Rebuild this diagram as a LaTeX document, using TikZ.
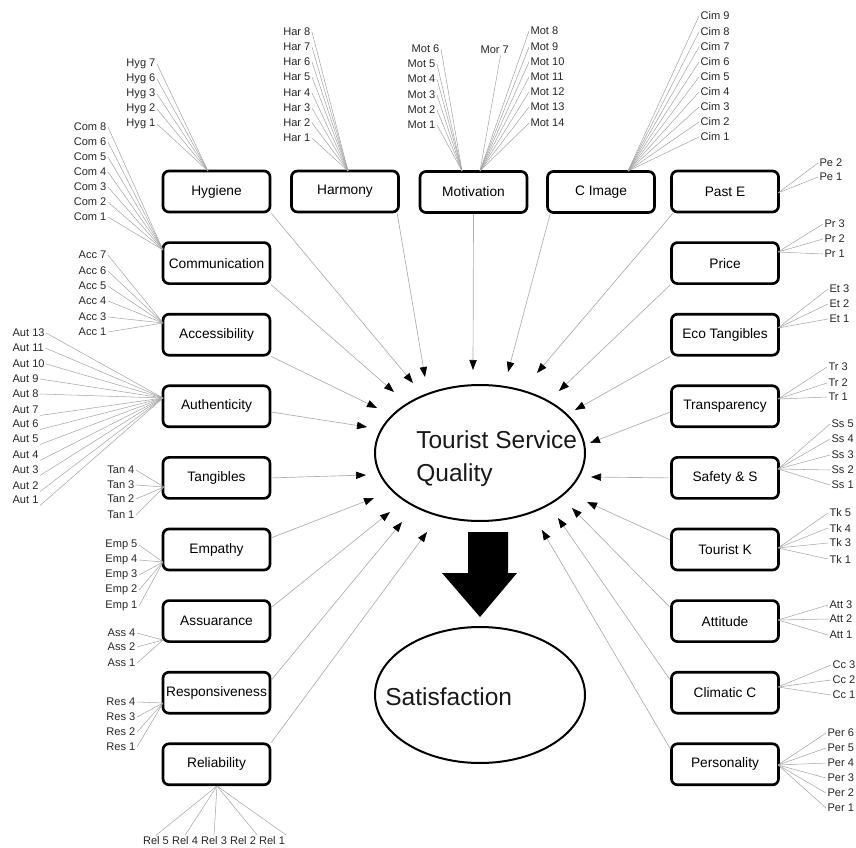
\documentclass[tikz,border=0pt]{standalone}
\usepackage{fontspec}
\setmainfont{Liberation Sans}
\usetikzlibrary{arrows.meta,shapes.geometric}
\begin{document}
\begin{tikzpicture}[x=0.75pt,y=-0.75pt,
  box/.style={draw=black, line width=2pt, rounded corners=4.5pt, fill=white,
    minimum width=80.25pt, minimum height=30.75pt, inner xsep=2pt,
    font=\fontsize{10.3}{12}\selectfont},
  ind/.style={font=\fontsize{8.3}{9}\selectfont, inner sep=1pt, text=black!85},
  fan/.style={draw=gray!70, line width=0.4pt},
  arr/.style={draw=gray!65, line width=0.5pt,
    -{Triangle[length=7.5pt,width=5.5pt,color=black,fill=black]}},
  ell/.style={ellipse, draw=black, line width=1.5pt, minimum width=157.5pt,
    minimum height=102pt, inner sep=0pt},
  big/.style={font=\fontsize{18.4}{24.75}\selectfont, inner sep=0pt, text=black!90}]
\clip (0,0) rectangle (856,848);
\useasboundingbox (0,0) rectangle (856,848);

% ellipses and texts
\node[ell] (tsq) at (480,453) {};
\node[big, anchor=north west, align=left] (tsqt) at (416,430) {Tourist Service\\Quality};
\node[ell] (sat) at (480,695) {};
\node[big, anchor=base west] (satt) at (385,705) {Satisfaction};
\fill[black] (468,532) -- (508,532) -- (508,573) -- (517,573) -- (480,617)
  -- (442,573) -- (468,573) -- cycle;

% top row
\node[box] (hyg) at (216.5,191.5) {Hygiene};
\node[box] (har) at (345,191.5) {Harmony};
\node[box] (mot) at (473.5,192) {Motivation\hspace{13.5pt}};
\node[box] (cim) at (601,192) {C Image\hspace{34.5pt}};
\node[box] (pe) at (725,191.5) {Past E};
% left column
\node[box] (com) at (216.5,263.1) {Communication};
\node[box] (acc) at (216.5,334.7) {Accessibility\hspace{7pt}};
\node[box] (aut) at (216.5,406.3) {Authenticity\hspace{7pt}};
\node[box] (tan) at (216.5,477.9) {Tangibles\hspace{4pt}};
\node[box] (emp) at (216.5,549.5) {Empathy\hspace{4pt}};
\node[box] (ass) at (216.5,621.1) {Assuarance};
\node[box] (res) at (216.5,692.7) {Responsiveness};
\node[box] (rel) at (216.5,764.3) {Reliability\hspace{6pt}};
% right column
\node[box] (pr) at (725,263.1) {Price};
\node[box] (et) at (725,334.7) {Eco Tangibles};
\node[box] (tr) at (725,406.3) {Transparency};
\node[box] (ss) at (725,477.9) {Safety \& S};
\node[box] (tk) at (725,549.5) {Tourist K};
\node[box] (att) at (725,621.1) {Attitude};
\node[box] (cc) at (725,692.7) {Climatic C};
\node[box] (per) at (725,764.3) {Personality};

% arrow tips
\coordinate (tHyg) at (413,383);
\coordinate (tHar) at (425,377);
\coordinate (tMot) at (473,370);
\coordinate (tCim) at (508,372);
\coordinate (tPe) at (537,373);
\coordinate (tPr) at (559,391);
\coordinate (tEt) at (575,410);
\coordinate (tTr) at (590,443);
\coordinate (tSs) at (591,477);
\coordinate (tTk) at (587,502);
\coordinate (tAtt) at (572,508);
\coordinate (tCc) at (558,518);
\coordinate (tPer) at (542,530);
\coordinate (tCom) at (394,392);
\coordinate (tAcc) at (377,408);
\coordinate (tAut) at (367,427);
\coordinate (tTan) at (366,475);
\coordinate (tEmp) at (374,498);
\coordinate (tAss) at (390,512);
\coordinate (tRes) at (402,522);
\coordinate (tRel) at (427,532);

\draw[arr] (hyg.south east) -- (tHyg);
\draw[arr] ([xshift=-2pt]har.south east) -- (tHar);
\draw[arr] (mot.south) -- (tMot);
\draw[arr] ([xshift=3pt]cim.south west) -- (tCim);
\draw[arr] ([xshift=2pt]pe.south west) -- (tPe);
\draw[arr] (pr.south west) -- (tPr);
\draw[arr] (et.south west) -- (tEt);
\draw[arr] (tr.-174) -- (tTr);
\draw[arr] (ss.west) -- (tSs);
\draw[arr] (tk.170) -- (tTk);
\draw[arr] (att.166) -- (tAtt);
\draw[arr] (cc.167) -- (tCc);
\draw[arr] (per.164) -- (tPer);
\draw[arr] (com.south east) -- (tCom);
\draw[arr] (acc.south east) -- (tAcc);
\draw[arr] (aut.-6) -- (tAut);
\draw[arr] (tan.east) -- (tTan);
\draw[arr] (emp.12) -- (tEmp);
\draw[arr] (ass.14) -- (tAss);
\draw[arr] (res.13) -- (tRes);
\draw[arr] (rel.north east) -- (tRel);

% fan points
\coordinate (hygF) at (208,171);
\coordinate (comF) at (163,250);
\coordinate (harF) at (348,171);
\coordinate (motFL) at (462,171);
\coordinate (motFR) at (480,171);
\coordinate (cimF) at (628,171);
\coordinate (peF) at (778,193);
\coordinate (prF) at (778,252);
\coordinate (etF) at (778,328);
\coordinate (trF) at (778,399);
\coordinate (ssF) at (778,469);
\coordinate (tkF) at (778,548);
\coordinate (attF) at (778,620);
\coordinate (ccF) at (778,687);
\coordinate (perF) at (778,765);
\coordinate (accF) at (163,323);
\coordinate (autF) at (163,398);
\coordinate (tanF) at (164,487);
\coordinate (empF) at (163,562);
\coordinate (assF) at (163,640);
\coordinate (resF) at (163,703);
\coordinate (relF) at (217,786);

% indicators
\foreach \n/\y in {7/64,6/79,3/94,2/109,1/124}{
  \node[ind,anchor=east] (hyg\n) at (157,\y) {Hyg \n};
  \draw[fan] (hyg\n.east) -- (hygF);}
\foreach \n/\y in {8/127,6/142,5/157,4/172,3/187,2/202,1/217}{
  \node[ind,anchor=east] (com\n) at (108,\y) {Com \n};
  \draw[fan] (com\n.east) -- (comF);}
\foreach \n/\y in {8/32,7/47,6/62,5/77,4/93,3/108,2/123,1/138}{
  \node[ind,anchor=east] (har\n) at (312,\y) {Har \n};
  \draw[fan] (har\n.east) -- (harF);}
\foreach \n/\x/\y in {6/441/49,5/437/64,4/437/79,3/437/95,2/437/110,1/437/125}{
  \node[ind,anchor=east] (mot\n) at (\x,\y) {Mot \n};
  \draw[fan] (mot\n.east) -- (motFL);}
\node[ind,anchor=west] (mor7) at (479,50) {Mor 7};
\draw[fan] ([xshift=-7.5pt]mor7.south east) -- (motFR);
\foreach \n/\y in {8/31,9/47,10/62,11/77,12/92,13/107,14/123}{
  \node[ind,anchor=west] (mot\n) at (529,\y) {Mot \n};
  \draw[fan] (mot\n.west) -- (motFR);}
\foreach \n/\y in {9/16,8/32,7/47,6/62,5/77,4/92,3/107,2/122,1/137}{
  \node[ind,anchor=west] (cim\n) at (699,\y) {Cim \n};
  \draw[fan] (cim\n.west) -- (cimF);}
\foreach \n/\y in {2/163,1/177}{
  \node[ind,anchor=west] (pe\n) at (818,\y) {Pe \n};
  \draw[fan] (pe\n.west) -- (peF);}
\foreach \n/\y in {3/224,2/239,1/254}{
  \node[ind,anchor=west] (pr\n) at (823,\y) {Pr \n};
  \draw[fan] (pr\n.west) -- (prF);}
\foreach \n/\y in {3/289,2/304,1/319}{
  \node[ind,anchor=west] (et\n) at (828,\y) {Et \n};
  \draw[fan] (et\n.west) -- (etF);}
\foreach \n/\y in {3/367,2/383,1/397}{
  \node[ind,anchor=west] (tr\n) at (827,\y) {Tr \n};
  \draw[fan] (tr\n.west) -- (trF);}
\foreach \n/\y in {5/424,4/439,3/455,2/470,1/485}{
  \node[ind,anchor=west] (ss\n) at (830,\y) {Ss \n};
  \draw[fan] (ss\n.west) -- (ssF);}
\foreach \n/\y in {5/513,4/528,3/543,1/559}{
  \node[ind,anchor=west] (tk\n) at (828,\y) {Tk \n};
  \draw[fan] (tk\n.west) -- (tkF);}
\foreach \n/\y in {3/605,2/619,1/635}{
  \node[ind,anchor=west] (att\n) at (828,\y) {Att \n};
  \draw[fan] (att\n.west) -- (attF);}
\foreach \n/\y in {3/665,2/680,1/695}{
  \node[ind,anchor=west] (cc\n) at (831,\y) {Cc \n};
  \draw[fan] (cc\n.west) -- (ccF);}
\foreach \n/\y in {6/733,5/748,4/763,3/778,2/793,1/808}{
  \node[ind,anchor=west] (per\n) at (826,\y) {Per \n};
  \draw[fan] (per\n.west) -- (perF);}
\foreach \n/\y in {7/255,6/271,5/286,4/301,3/317,1/332}{
  \node[ind,anchor=east] (acc\n) at (108,\y) {Acc \n};
  \draw[fan] (acc\n.east) -- (accF);}
\foreach \n/\y in {13/333,11/348,10/364,9/379,8/394}{
  \node[ind,anchor=west] (aut\n) at (11,\y) {Aut \n};
  \draw[fan] (aut\n.east) -- (autF);}
\foreach \n/\y in {7/410,6/424,5/439,4/455,3/470,2/486,1/500}{
  \node[ind,anchor=west] (aut\n) at (11,\y) {Aut \n};
  \draw[fan] (aut\n.south east) -- (autF);}
\foreach \n/\y in {4/470,3/485,2/499,1/515}{
  \node[ind,anchor=east] (tan\n) at (136,\y) {Tan \n};
  \draw[fan] (tan\n.east) -- (tanF);}
\foreach \n/\y in {5/545,4/560,3/575,2/590,1/606}{
  \node[ind,anchor=east] (emp\n) at (139,\y) {Emp \n};
  \draw[fan] (emp\n.east) -- (empF);}
\foreach \n/\y in {4/633,2/647,1/663}{
  \node[ind,anchor=east] (ass\n) at (137,\y) {Ass \n};
  \draw[fan] (ass\n.east) -- (assF);}
\foreach \n/\y in {4/702,3/717,2/732,1/747}{
  \node[ind,anchor=east] (res\n) at (137,\y) {Res \n};
  \draw[fan] (res\n.east) -- (resF);}
\foreach \n/\x in {5/156,4/185,3/214}{
  \node[ind] (rel\n) at (\x,841) {Rel \n};
  \draw[fan] (rel\n.north) -- (relF);}
\foreach \n/\x in {2/243,1/272}{
  \node[ind] (rel\n) at (\x,841) {Rel \n};
  \draw[fan] (rel\n.north east) -- (relF);}
\end{tikzpicture}
\end{document}
